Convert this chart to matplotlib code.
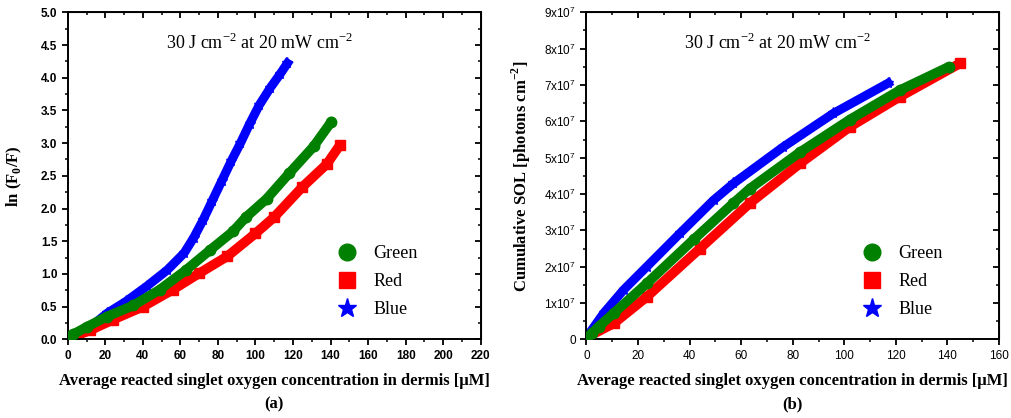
import matplotlib.pyplot as plt
from matplotlib.lines import Line2D
from matplotlib.ticker import MultipleLocator, FuncFormatter

# (a) ln(F0/F) against reacted singlet oxygen
a_green_x = [0, 3, 10, 21, 35, 49, 63, 76, 88, 95, 106, 118, 131, 140.5]
a_green_y = [0.03, 0.08, 0.19, 0.35, 0.52, 0.76, 1.06, 1.37, 1.65, 1.87, 2.15, 2.54, 2.95, 3.33]
a_red_x = [0, 3, 12, 24, 40, 56, 70, 85, 100, 110, 125, 138, 145]
a_red_y = [0.03, 0.04, 0.14, 0.30, 0.50, 0.76, 1.01, 1.27, 1.62, 1.87, 2.33, 2.68, 2.97]
a_blue_x = [0, 12, 21, 31, 42, 53, 62, 67, 72, 77, 82, 87, 92, 97, 102, 108, 113, 117]
a_blue_y = [0.02, 0.19, 0.40, 0.58, 0.81, 1.06, 1.32, 1.55, 1.82, 2.12, 2.42, 2.72,
            3.00, 3.30, 3.58, 3.85, 4.05, 4.22]

# (b) cumulative SOL (x1e7 photons cm^-2)
b_green_x = [0, 2.3, 4.7, 10.6, 23.4, 41.6, 57, 63.4, 82.8, 102.2, 121.6, 140.5]
b_green_y = [0.02, 0.18, 0.35, 0.72, 1.54, 2.75, 3.75, 4.15, 5.15, 6.05, 6.86, 7.5]
b_red_x = [0, 10.6, 23.4, 44, 63.4, 82.8, 102.2, 121.6, 145]
b_red_y = [0.05, 0.44, 1.17, 2.50, 3.75, 4.84, 5.85, 6.68, 7.6]
b_blue_x = [0, 6.7, 14.4, 23.4, 36.3, 49.3, 57, 76.4, 95.8, 117]
b_blue_y = [0.05, 0.72, 1.36, 2.0, 2.92, 3.83, 4.29, 5.3, 6.22, 7.05]

GREEN, RED, BLUE = '#008000', '#ff0000', '#0000ff'
title = '30 J cm$^{\\mathregular{-2}}$ at 20 mW cm$^{\\mathregular{-2}}$'
xlab = 'Average reacted singlet oxygen concentration in dermis [μM]'
serif = 'Liberation Serif'
sans = 'Liberation Sans'

fig = plt.figure(figsize=(10.11, 4.18), dpi=100)
ax1 = fig.add_axes([0.067, 0.188, 0.4085, 0.7826])
ax2 = fig.add_axes([0.580, 0.188, 0.4082, 0.7826])


def draw(ax, gx, gy, rx, ry, bx, by, scale=1.0):
    ry = [v * scale for v in ry]
    gy = [v * scale for v in gy]
    by = [v * scale for v in by]
    ax.plot(rx, ry, '-', color=RED, lw=7, solid_capstyle='butt', zorder=2)
    ax.plot(rx, ry, 's', color=RED, ms=6.5, zorder=2)
    ax.plot(gx, gy, '-', color=GREEN, lw=7, solid_capstyle='round', zorder=3)
    ax.plot(gx, gy, 'o', color=GREEN, ms=7.5, zorder=3)
    ax.plot(bx, by, '-', color=BLUE, lw=6.5, zorder=1)
    ax.plot(bx, by, '*', color=BLUE, ms=8, zorder=1)


def frame(ax, xmax, xmaj, ymax, ymaj):
    ax.set_xlim(0, xmax)
    ax.set_ylim(0, ymax)
    ax.xaxis.set_major_locator(MultipleLocator(xmaj))
    ax.xaxis.set_minor_locator(MultipleLocator(xmaj / 2))
    ax.yaxis.set_major_locator(MultipleLocator(ymaj))
    ax.yaxis.set_minor_locator(MultipleLocator(ymaj / 2))
    ax.tick_params(which='major', direction='out', length=4, width=1.3)
    ax.tick_params(which='minor', direction='out', length=2.5, width=1.1)
    for s in ax.spines.values():
        s.set_linewidth(1.4)
    top = ax.secondary_xaxis('top')
    top.xaxis.set_major_locator(MultipleLocator(xmaj))
    top.xaxis.set_minor_locator(MultipleLocator(xmaj / 2))
    top.tick_params(which='major', direction='in', length=4, width=1.3, labeltop=False)
    top.tick_params(which='minor', direction='in', length=2.5, width=1.1)
    right = ax.secondary_yaxis('right')
    right.yaxis.set_major_locator(MultipleLocator(ymaj))
    right.yaxis.set_minor_locator(MultipleLocator(ymaj / 2))
    right.tick_params(which='major', direction='in', length=4, width=1.3, labelright=False)
    right.tick_params(which='minor', direction='in', length=2.5, width=1.1)


def legend(ax, anchor):
    handles = [Line2D([], [], ls='', marker='o', color=GREEN, ms=12),
               Line2D([], [], ls='', marker='s', color=RED, ms=11),
               Line2D([], [], ls='', marker='*', color=BLUE, ms=14)]
    ax.legend(handles, ['Green', 'Red', 'Blue'], loc='upper left', bbox_to_anchor=anchor,
              frameon=False, prop={'family': serif, 'size': 13}, labelspacing=0.62,
              handlelength=1.5, handletextpad=0.7, borderaxespad=0, borderpad=0)


# panel (a)
draw(ax1, a_green_x, a_green_y, a_red_x, a_red_y, a_blue_x, a_blue_y)
frame(ax1, 220, 20, 5.0, 0.5)
ax1.yaxis.set_major_formatter(FuncFormatter(lambda v, p: f'{v:.1f}'))
for lab in ax1.get_xticklabels() + ax1.get_yticklabels():
    lab.set_family(sans)
    lab.set_fontweight('bold')
    lab.set_fontsize(8.5)
ax1.text(0.463, 0.906, title, transform=ax1.transAxes, ha='center', va='center',
         family=serif, fontsize=13)
ax1.set_xlabel(xlab, family=serif, fontweight='bold', fontsize=12, labelpad=8)
ax1.set_ylabel('ln (F$_{\\mathregular{0}}$/F)', family=serif, fontweight='bold',
               fontsize=12, labelpad=12)
ax1.text(0.5, -0.2, '(a)', transform=ax1.transAxes, ha='center', va='center',
         family=serif, fontweight='bold', fontsize=12)
legend(ax1, (0.644, 0.289))

# panel (b)
draw(ax2, b_green_x, b_green_y, b_red_x, b_red_y, b_blue_x, b_blue_y, scale=1e7)
frame(ax2, 160, 20, 9e7, 1e7)
ax2.yaxis.set_major_formatter(FuncFormatter(
    lambda v, p: '0' if v == 0 else f'{int(round(v / 1e7))}x10$^{{\\mathregular{{7}}}}$'))
for lab in ax2.get_xticklabels() + ax2.get_yticklabels():
    lab.set_family(sans)
    lab.set_fontsize(8.5)
ax2.text(0.463, 0.906, title, transform=ax2.transAxes, ha='center', va='center',
         family=serif, fontsize=13)
ax2.set_xlabel(xlab, family=serif, fontweight='bold', fontsize=12, labelpad=8)
ax2.set_ylabel('Cumulative SOL [photons cm$^{\\mathregular{-2}}$]', family=serif,
               fontweight='bold', fontsize=12, labelpad=8)
ax2.text(0.5, -0.2, '(b)', transform=ax2.transAxes, ha='center', va='center',
         family=serif, fontweight='bold', fontsize=12)
legend(ax2, (0.66, 0.289))

fig.savefig('out.png', dpi=100)
